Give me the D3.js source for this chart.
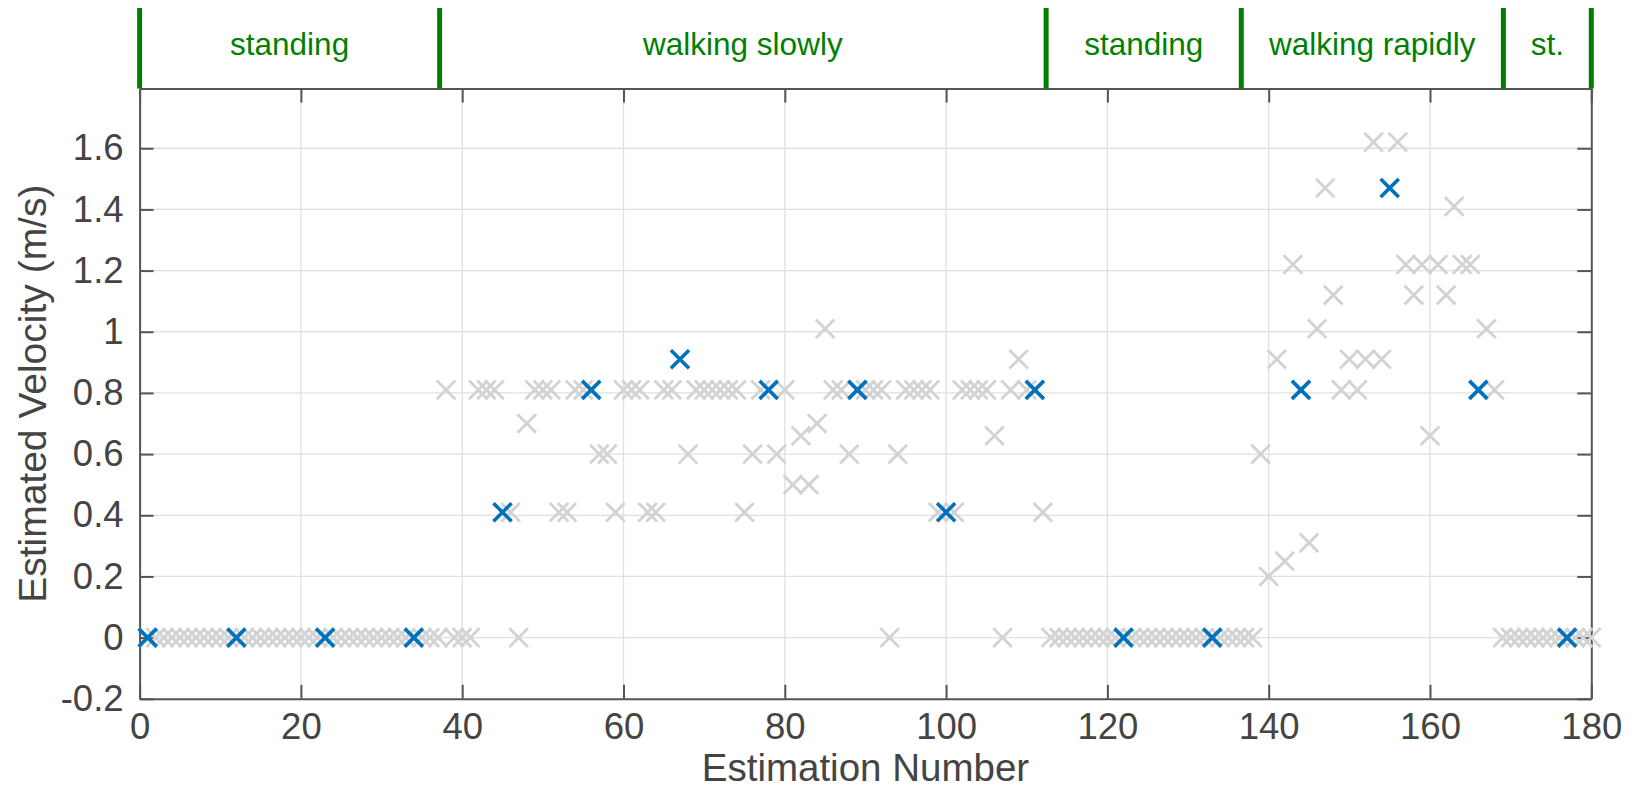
<!DOCTYPE html>
<html>
<head>
<meta charset="utf-8">
<script src="https://cdn.jsdelivr.net/npm/d3@7"></script>
<style>
    body { margin: 0; background: #fff; }
    text { font-family: "Liberation Sans", Arial, Helvetica, sans-serif; }
</style>
</head>
<body>
<div class="canvas_area"></div>
<script>
// ESTIMATED VELOCITY, ONE VALUE PER ESTIMATION (1..180)
const velocity = [
    0, 0, 0, 0, 0, 0, 0, 0, 0, 0,
    0, 0, 0, 0, 0, 0, 0, 0, 0, 0,
    0, 0, 0, 0, 0, 0, 0, 0, 0, 0,
    0, 0, 0, 0, 0, 0, 0, 0.81, 0, 0,
    0, 0.81, 0.81, 0.81, 0.41, 0.41, 0, 0.70, 0.81, 0.81,
    0.81, 0.41, 0.41, 0.81, 0.81, 0.81, 0.60, 0.60, 0.41, 0.81,
    0.81, 0.81, 0.41, 0.41, 0.81, 0.81, 0.91, 0.60, 0.81, 0.81,
    0.81, 0.81, 0.81, 0.81, 0.41, 0.60, 0.81, 0.81, 0.60, 0.81,
    0.50, 0.66, 0.50, 0.70, 1.01, 0.81, 0.81, 0.60, 0.81, 0.81,
    0.81, 0.81, 0, 0.60, 0.81, 0.81, 0.81, 0.81, 0.41, 0.41,
    0.41, 0.81, 0.81, 0.81, 0.81, 0.66, 0, 0.81, 0.91, 0.81,
    0.81, 0.41, 0, 0, 0, 0, 0, 0, 0, 0,
    0, 0, 0, 0, 0, 0, 0, 0, 0, 0,
    0, 0, 0, 0, 0, 0, 0, 0, 0.60, 0.20,
    0.91, 0.25, 1.22, 0.81, 0.31, 1.01, 1.47, 1.12, 0.81, 0.91,
    0.81, 0.91, 1.62, 0.91, 1.47, 1.62, 1.22, 1.12, 1.22, 0.66,
    1.22, 1.12, 1.41, 1.22, 1.22, 0.81, 1.01, 0.81, 0, 0,
    0, 0, 0, 0, 0, 0, 0, 0, 0, 0
];
// ESTIMATIONS SHOWN IN BLUE
const highlighted = [1, 12, 23, 34, 45, 56, 67, 78, 89, 100, 111, 122, 133, 144, 155, 166, 177];

// ACTIVITY SEGMENTS ON TOP
const segmentEdges = [0, 37.2, 112.4, 136.6, 169.1, 180];
const segmentLabels = ["standing", "walking slowly", "standing", "walking rapidly", "st."];

// TICKS
const xTicks = [0, 20, 40, 60, 80, 100, 120, 140, 160, 180];
const yTicks = [-0.2, 0, 0.2, 0.4, 0.6, 0.8, 1, 1.2, 1.4, 1.6];

//USEFUL VARIABLES
const svgwidth = 1634, svgheight = 790;
const margin = {top: 88.6, right: 42.7, bottom: 91.2, left: 139.6};
const graphwidth = svgwidth - margin.left - margin.right;
const graphheight = svgheight - margin.top - margin.bottom;
const axisColor = "#555", textColor = "#444", green = "#008000";

//SVG
const svg = d3.select(".canvas_area").append("svg")
    .attr("width", svgwidth)
    .attr("height", svgheight);

const graph = svg.append("g")
    .attr("transform", `translate(${margin.left}, ${margin.top})`);

// SCALES
const X = d3.scaleLinear().domain([0, 180]).range([0, graphwidth]);
const Y = d3.scaleLinear().domain([-0.2, 1.795]).range([graphheight, 0]);

// GRID
graph.append("g").selectAll("line").data(xTicks.slice(1, -1)).enter().append("line")
    .attr("x1", d => X(d)).attr("x2", d => X(d))
    .attr("y1", 0).attr("y2", graphheight)
    .style("stroke", "#e0e0e0").style("stroke-width", 1.3);
graph.append("g").selectAll("line").data(yTicks.slice(1)).enter().append("line")
    .attr("x1", 0).attr("x2", graphwidth)
    .attr("y1", d => Y(d)).attr("y2", d => Y(d))
    .style("stroke", "#e0e0e0").style("stroke-width", 1.3);

// AXIS
const fmt = d => String(+d.toFixed(1));
const styleAxis = (g) => {
    g.select(".domain").style("stroke", axisColor).style("stroke-width", 2);
    g.selectAll(".tick line").style("stroke", axisColor).style("stroke-width", 2);
    g.selectAll(".tick text").style("fill", textColor).style("font-size", "36.5px")
        .style("font-family", "'Liberation Sans', Arial, sans-serif");
};
graph.append("g").attr("transform", `translate(0, ${graphheight})`)
    .call(d3.axisBottom(X).tickValues(xTicks).tickFormat(fmt).tickSize(-14).tickSizeOuter(0).tickPadding(14))
    .call(styleAxis);
graph.append("g")
    .call(d3.axisLeft(Y).tickValues(yTicks).tickFormat(fmt).tickSize(-14).tickSizeOuter(0).tickPadding(16))
    .call(styleAxis);
graph.append("g")
    .call(d3.axisTop(X).tickValues(xTicks).tickFormat("").tickSize(-14).tickSizeOuter(0))
    .call(styleAxis);
graph.append("g").attr("transform", `translate(${graphwidth}, 0)`)
    .call(d3.axisRight(Y).tickValues(yTicks).tickFormat("").tickSize(-14).tickSizeOuter(0))
    .call(styleAxis);

// MARKERS
const cross = s => `M${-s},${-s}L${s},${s}M${-s},${s}L${s},${-s}`;
const points = velocity.map((v, i) => ({n: i + 1, v: v}));

graph.append("g").selectAll(".all-points").data(points).enter().append("path")
    .classed("all-points", true)
    .attr("d", cross(9.3))
    .attr("transform", d => `translate(${X(d.n)}, ${Y(d.v)})`)
    .style("fill", "none").style("stroke", "#d3d3d3").style("stroke-width", 2.9);

graph.append("g").selectAll(".sel-points").data(highlighted.map(n => points[n - 1])).enter().append("path")
    .classed("sel-points", true)
    .attr("d", cross(9))
    .attr("transform", d => `translate(${X(d.n)}, ${Y(d.v)})`)
    .style("fill", "none").style("stroke", "#0072BD").style("stroke-width", 3.6);

// SEGMENTS
const seg = svg.append("g").attr("transform", `translate(${margin.left}, 0)`);
seg.selectAll("line").data(segmentEdges).enter().append("line")
    .attr("x1", d => X(d)).attr("x2", d => X(d))
    .attr("y1", 8).attr("y2", margin.top)
    .style("stroke", green).style("stroke-width", 5);
seg.selectAll("text").data(segmentLabels).enter().append("text")
    .attr("x", (d, i) => (X(segmentEdges[i]) + X(segmentEdges[i + 1])) / 2)
    .attr("y", 55)
    .attr("text-anchor", "middle")
    .style("fill", green).style("font-size", "31.5px")
    .text(d => d);

// AXIS LABELS
svg.append("text")
    .attr("x", margin.left + graphwidth / 2).attr("y", 781)
    .attr("text-anchor", "middle")
    .style("fill", textColor).style("font-size", "38.5px")
    .text("Estimation Number");
svg.append("text")
    .attr("transform", `translate(46, ${margin.top + graphheight / 2}) rotate(-90)`)
    .attr("text-anchor", "middle")
    .style("fill", textColor).style("font-size", "39px")
    .text("Estimated Velocity (m/s)");
</script>
</body>
</html>
